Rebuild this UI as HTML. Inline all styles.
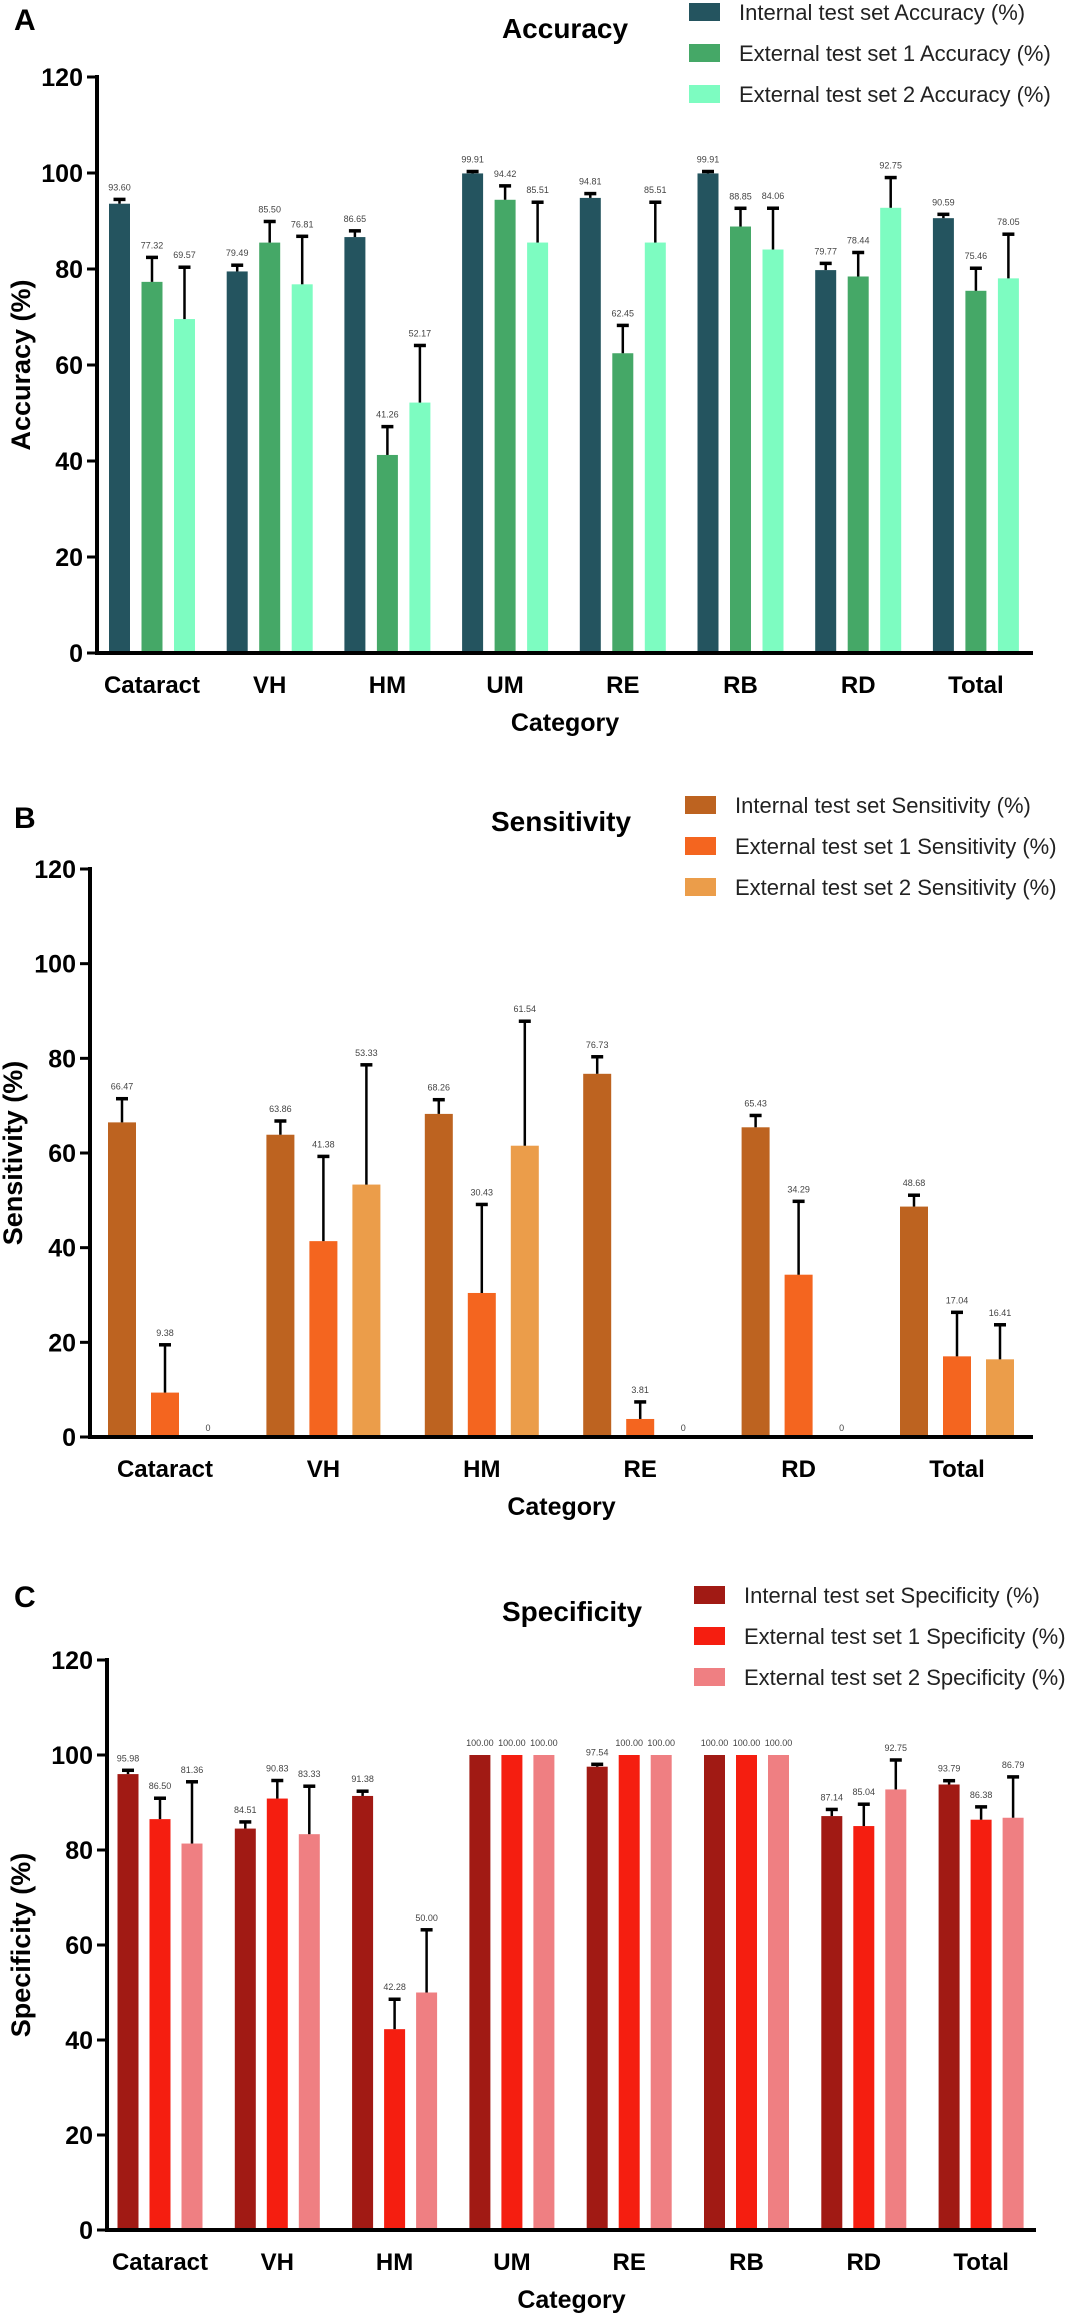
<!DOCTYPE html>
<html><head><meta charset="utf-8"><style>
html,body{margin:0;padding:0;background:#fff;}
svg{display:block;font-family:"Liberation Sans",sans-serif;}
</style></head><body>
<svg id="chart" width="1080" height="2313" viewBox="0 0 1080 2313"></svg>
<script>
// Panel A: Accuracy
const catsA = ["Cataract","VH","HM","UM","RE","RB","RD","Total"];
const accInt = [93.60,79.49,86.65,99.91,94.81,99.91,79.77,90.59];
const accExt1 = [77.32,85.50,41.26,94.42,62.45,88.85,78.44,75.46];
const accExt2 = [69.57,76.81,52.17,85.51,85.51,84.06,92.75,78.05];
const accIntErr = [0.9,1.3,1.3,0.4,0.9,0.4,1.4,0.8];
const accExt1Err = [5.1,4.4,5.9,2.9,5.8,3.8,5.0,4.7];
const accExt2Err = [10.8,10.0,11.9,8.4,8.4,8.6,6.3,9.2];
// Panel B: Sensitivity
const catsB = ["Cataract","VH","HM","RE","RD","Total"];
const senInt = [66.47,63.86,68.26,76.73,65.43,48.68];
const senExt1 = [9.38,41.38,30.43,3.81,34.29,17.04];
const senExt2 = [0,53.33,61.54,0,0,16.41];
const senIntErr = [5.0,2.9,3.0,3.6,2.5,2.4];
const senExt1Err = [10.1,17.9,18.7,3.6,15.5,9.3];
const senExt2Err = [0,25.3,26.3,0,0,7.3];
// Panel C: Specificity
const catsC = ["Cataract","VH","HM","UM","RE","RB","RD","Total"];
const speInt = [95.98,84.51,91.38,100,97.54,100,87.14,93.79];
const speExt1 = [86.50,90.83,42.28,100,100,100,85.04,86.38];
const speExt2 = [81.36,83.33,50.00,100,100,100,92.75,86.79];
const speIntErr = [0.8,1.4,1.0,0,0.5,0,1.4,0.8];
const speExt1Err = [4.4,3.8,6.3,0,0,0,4.6,2.7];
const speExt2Err = [13.0,10.1,13.2,0,0,0,6.2,8.6];
const yTicks = [0,20,40,60,80,100,120];

const NS="http://www.w3.org/2000/svg";
const svg=document.getElementById('chart');
function mk(tag,attrs,parent,text){const e=document.createElementNS(NS,tag);for(const k in attrs)e.setAttribute(k,attrs[k]);if(text!==undefined)e.textContent=text;(parent||svg).appendChild(e);return e;}

function panel(p){
  const g=mk('g',{});
  
  
  const y=v=>p.y0-(v/120)*(p.y0-p.y120);
  const x=i=>p.cx0+i*p.pitch;
  // letter
  const L=mk('text',{x:p.letterX,y:p.letterY,'font-size':30,'font-weight':'bold'},g,p.letter);
  
  const T=mk('text',{x:p.titleX,y:p.titleY,'font-size':28,'font-weight':'bold','text-anchor':'middle'},g,p.title);
  
  // legend
  p.legend.forEach((s,k)=>{
    const lg=mk('g',{},g);
    
    mk('rect',{x:p.legX,y:p.legY+k*p.legDy-9,width:31,height:18,fill:p.colors[k]},lg);
    mk('text',{x:p.legX+50,y:p.legY+k*p.legDy+8,'font-size':22,fill:'#222'},lg,s);
  });
  // bars
  p.series.forEach((vals,s)=>{
    vals.forEach((v,i)=>{
      const cx=x(i)+(s-1)*p.bw;
      const bg=mk('g',{},g);
      
      
      if(v>0) mk('rect',{x:cx-p.barW/2,y:y(v),width:p.barW,height:p.y0-y(v),fill:p.colors[s]},bg);
      const e=p.errs[s][i];
      if(e>0){
        mk('line',{x1:cx,x2:cx,y1:y(v),y2:y(v+e),stroke:'#000','stroke-width':2.5},bg);
        mk('line',{x1:cx-6,x2:cx+6,y1:y(v+e),y2:y(v+e),stroke:'#000','stroke-width':3.5},bg);
      }
      const top=e>0?y(v+e):y(v);
      const lab=v===0?'0':v.toFixed(2);
      mk('text',{x:cx,y:top-(v===0?6:9),'font-size':9,fill:'#444','text-anchor':'middle'},bg,lab);
    });
  });
  // axes
  const ax=mk('g',{},g);
  mk('line',{x1:p.axX,x2:p.axX,y1:p.y120-2,y2:p.y0+2,stroke:'#000','stroke-width':4},ax);
  yTicks.forEach(t=>{
    mk('line',{x1:p.axX-10,x2:p.axX,y1:y(t),y2:y(t),stroke:'#000','stroke-width':3},ax);
    mk('text',{x:p.axX-14,y:y(t)+9,'font-size':25,'font-weight':'bold','text-anchor':'end'},ax,String(t));
  });
  const xa=mk('line',{x1:p.axX-2,x2:p.axEnd,y1:p.y0,y2:p.y0,stroke:'#000','stroke-width':4},g);
  
  p.cats.forEach((c,i)=>{
    const t=mk('text',{x:x(i),y:p.y0+40,'font-size':24,'font-weight':'bold','text-anchor':'middle'},g,c);
    
  });
  const xt=mk('text',{x:(p.axX+p.axEnd)/2,y:p.y0+78,'font-size':25,'font-weight':'bold','text-anchor':'middle'},g,'Category');
  
  const ym=(p.y0+p.y120)/2+p.yTitleShift;
  const yt=mk('text',{x:p.yTitleX,y:ym,'font-size':27,'font-weight':'bold','text-anchor':'middle',transform:`rotate(-90 ${p.yTitleX} ${ym})`},g,p.yTitle);
  
}

panel({id:'accuracy',letter:'A',letterX:14,letterY:30,title:'Accuracy',titleX:565,titleY:38,
  cats:catsA,series:[accInt,accExt1,accExt2],errs:[accIntErr,accExt1Err,accExt2Err],
  colors:['#24545f','#45a867','#7dfcc1'],
  legend:['Internal test set Accuracy (%)','External test set 1 Accuracy (%)','External test set 2 Accuracy (%)'],
  legX:689,legY:12,legDy:41,y0:653,y120:77,axX:97,axEnd:1033,cx0:152,pitch:117.7,bw:32.5,barW:21,
  yTitleX:30,yTitleShift:0,yTitle:'Accuracy (%)'});
panel({id:'sensitivity',letter:'B',letterX:14,letterY:828,title:'Sensitivity',titleX:561,titleY:831,
  cats:catsB,series:[senInt,senExt1,senExt2],errs:[senIntErr,senExt1Err,senExt2Err],
  colors:['#bd6320','#f4651f','#eb9d4a'],
  legend:['Internal test set Sensitivity (%)','External test set 1 Sensitivity (%)','External test set 2 Sensitivity (%)'],
  legX:685,legY:805,legDy:41,y0:1437,y120:869,axX:90,axEnd:1033,cx0:165,pitch:158.4,bw:43,barW:28,
  yTitleX:22,yTitleShift:0,yTitle:'Sensitivity (%)'});
panel({id:'specificity',letter:'C',letterX:14,letterY:1607,title:'Specificity',titleX:572,titleY:1621,
  cats:catsC,series:[speInt,speExt1,speExt2],errs:[speIntErr,speExt1Err,speExt2Err],
  colors:['#a11a14','#f51e10','#ef7f82'],
  legend:['Internal test set Specificity (%)','External test set 1 Specificity (%)','External test set 2 Specificity (%)'],
  legX:694,legY:1595,legDy:41,y0:2230,y120:1660,axX:107,axEnd:1036,cx0:160,pitch:117.3,bw:32,barW:21,
  yTitleX:30,yTitleShift:0,yTitle:'Specificity (%)'});
</script>
</body></html>
